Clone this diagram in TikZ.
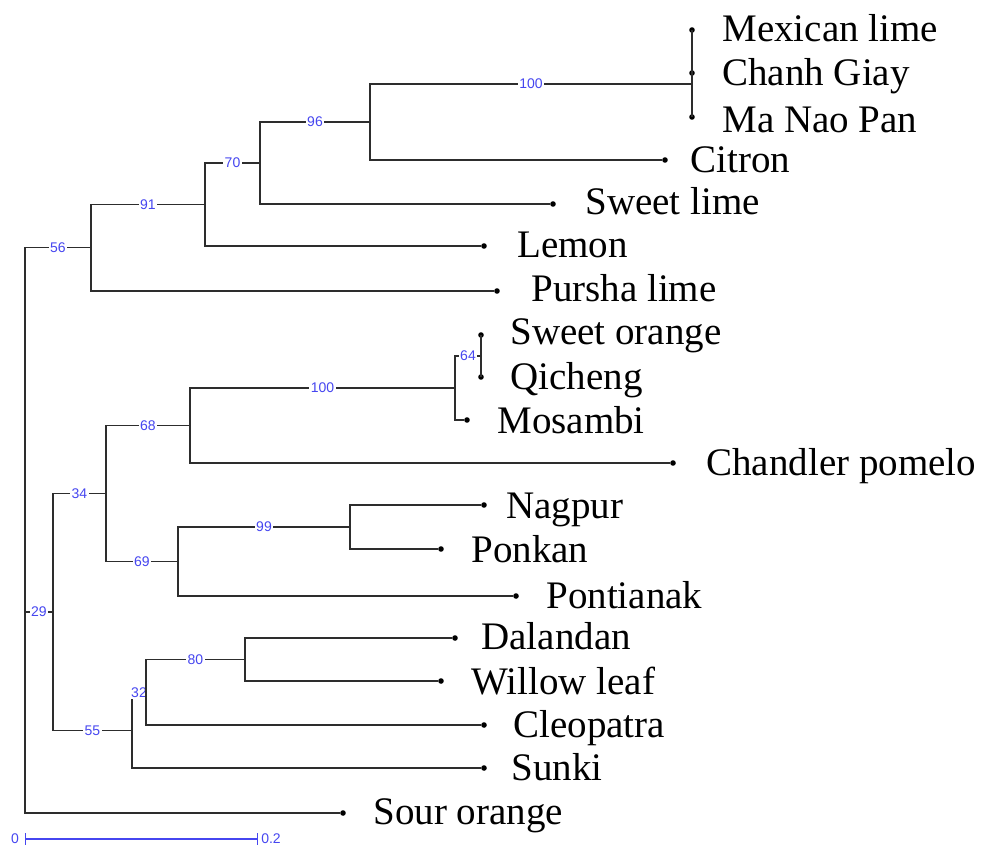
\documentclass[tikz,border=0pt]{standalone}
\usepackage{fontspec}
\setmainfont{Liberation Serif}
\newfontfamily\supportfont{Liberation Sans}
\definecolor{bootblue}{RGB}{70,70,240}
\definecolor{branchgray}{RGB}{45,45,45}

\begin{document}
\begin{tikzpicture}[x=0.5pt, y=-0.5pt]
       \tikzset{
         branch/.style={draw=branchgray, line width=0.6pt},
         tip/.style={circle, fill=black, inner sep=0pt, minimum size=2.8pt},
         taxon/.style={anchor=west, inner sep=0pt, yshift=-4pt, font=\fontsize{19.5}{22}\selectfont, text height=0.68em, text depth=0.2em},
         support/.style={pos=0.75, fill=white, inner sep=0.8pt, text=bootblue, font=\supportfont\fontsize{7}{8}\selectfont},
         barlabel/.style={inner sep=0pt, text=bootblue, font=\supportfont\fontsize{7}{8}\selectfont}
       }
       \useasboundingbox (0,0) rectangle (990,846);

       % inner nodes of the tree
       \coordinate (root) at (25,530);
       \coordinate (n56) at (91,247.5);
       \coordinate (n91) at (205,204.5);
       \coordinate (n70) at (260,163);
       \coordinate (n96) at (370,122);
       \coordinate (n100a) at (692,84);
       \coordinate (nmc) at (692,51.5);
       \coordinate (n29) at (53,612);
       \coordinate (n34) at (106,493.5);
       \coordinate (n68) at (190,425.5);
       \coordinate (n100b) at (455,388);
       \coordinate (n64) at (481,356);
       \coordinate (n69) at (178,561.5);
       \coordinate (n99) at (350,527);
       \coordinate (n55) at (132,730.5);
       \coordinate (n32) at (146,692.5);
       \coordinate (n80) at (245,659.5);

       % tips
       \node[tip] (mexican) at (692,30) {};
       \node[tip] (chanh) at (692,73) {};
       \node[tip] (manao) at (692,117) {};
       \node[tip] (citron) at (665,160) {};
       \node[tip] (sweetlime) at (553,204) {};
       \node[tip] (lemon) at (484,246) {};
       \node[tip] (pursha) at (497,291) {};
       \node[tip] (sweetorange) at (481,335) {};
       \node[tip] (qicheng) at (481,377) {};
       \node[tip] (mosambi) at (467,420) {};
       \node[tip] (chandler) at (673,463) {};
       \node[tip] (nagpur) at (484,505) {};
       \node[tip] (ponkan) at (441,549) {};
       \node[tip] (pontianak) at (516,596) {};
       \node[tip] (dalandan) at (455,638) {};
       \node[tip] (willow) at (441,681) {};
       \node[tip] (cleopatra) at (484,725) {};
       \node[tip] (sunki) at (484,768) {};
       \node[tip] (sour) at (343,813) {};

       % names of the tips
       \node[taxon] (tmexican) at (722,29) {Mexican lime};
       \node[taxon] (tchanh) at (722,73) {Chanh Giay};
       \node[taxon] (tmanao) at (722,120) {Ma Nao Pan};
       \node[taxon] (tcitron) at (690,160) {Citron};
       \node[taxon] (tsweetlime) at (585,202) {Sweet lime};
       \node[taxon] (tlemon) at (517,245) {Lemon};
       \node[taxon] (tpursha) at (531,289) {Pursha lime};
       \node[taxon] (tsweetorange) at (510,332) {Sweet orange};
       \node[taxon] (tqicheng) at (510,377) {Qicheng};
       \node[taxon] (tmosambi) at (497,421) {Mosambi};
       \node[taxon] (tchandler) at (706,463) {Chandler pomelo};
       \node[taxon] (tnagpur) at (506,506) {Nagpur};
       \node[taxon] (tponkan) at (471,550) {Ponkan};
       \node[taxon] (tpontianak) at (546,596) {Pontianak};
       \node[taxon] (tdalandan) at (481,637) {Dalandan};
       \node[taxon] (twillow) at (471,682) {Willow leaf};
       \node[taxon] (tcleopatra) at (513,725) {Cleopatra};
       \node[taxon] (tsunki) at (511,768) {Sunki};
       \node[taxon] (tsour) at (373,812) {Sour orange};

       % branches
       \draw[branch] (root) |- node[support] {56} (n56);
       \draw[branch] (root) |- node[support] {29} (n29);
       \draw[branch] (root) |- (sour);
       \draw[branch] (n56) |- node[support] {91} (n91);
       \draw[branch] (n56) |- (pursha);
       \draw[branch] (n91) |- node[support] {70} (n70);
       \draw[branch] (n91) |- (lemon);
       \draw[branch] (n70) |- node[support] {96} (n96);
       \draw[branch] (n70) |- (sweetlime);
       \draw[branch] (n96) |- node[support] {100} (n100a);
       \draw[branch] (n96) |- (citron);
       \draw[branch] (n100a) |- (nmc);
       \draw[branch] (n100a) |- (manao);
       \draw[branch] (nmc) |- (mexican);
       \draw[branch] (nmc) |- (chanh);
       \draw[branch] (n29) |- node[support] {34} (n34);
       \draw[branch] (n29) |- node[support] {55} (n55);
       \draw[branch] (n34) |- node[support] {68} (n68);
       \draw[branch] (n34) |- node[support] {69} (n69);
       \draw[branch] (n68) |- node[support] {100} (n100b);
       \draw[branch] (n68) |- (chandler);
       \draw[branch] (n100b) |- node[support] {64} (n64);
       \draw[branch] (n100b) |- (mosambi);
       \draw[branch] (n64) |- (sweetorange);
       \draw[branch] (n64) |- (qicheng);
       \draw[branch] (n69) |- node[support] {99} (n99);
       \draw[branch] (n69) |- (pontianak);
       \draw[branch] (n99) |- (nagpur);
       \draw[branch] (n99) |- (ponkan);
       \draw[branch] (n55) |- node[support] {32} (n32);
       \draw[branch] (n55) |- (sunki);
       \draw[branch] (n32) |- node[support] {80} (n80);
       \draw[branch] (n32) |- (cleopatra);
       \draw[branch] (n80) |- (dalandan);
       \draw[branch] (n80) |- (willow);

       % scale bar
       \coordinate (bar0) at (25,839);
       \coordinate (bar1) at (258,839);
       \draw[bootblue, line width=0.55pt, |-|] (bar0) -- (bar1);
       \node[barlabel] (lbar0) at (15,839) {0};
       \node[barlabel] (lbar1) at (271,839) {0.2};
\end{tikzpicture}
\end{document}
